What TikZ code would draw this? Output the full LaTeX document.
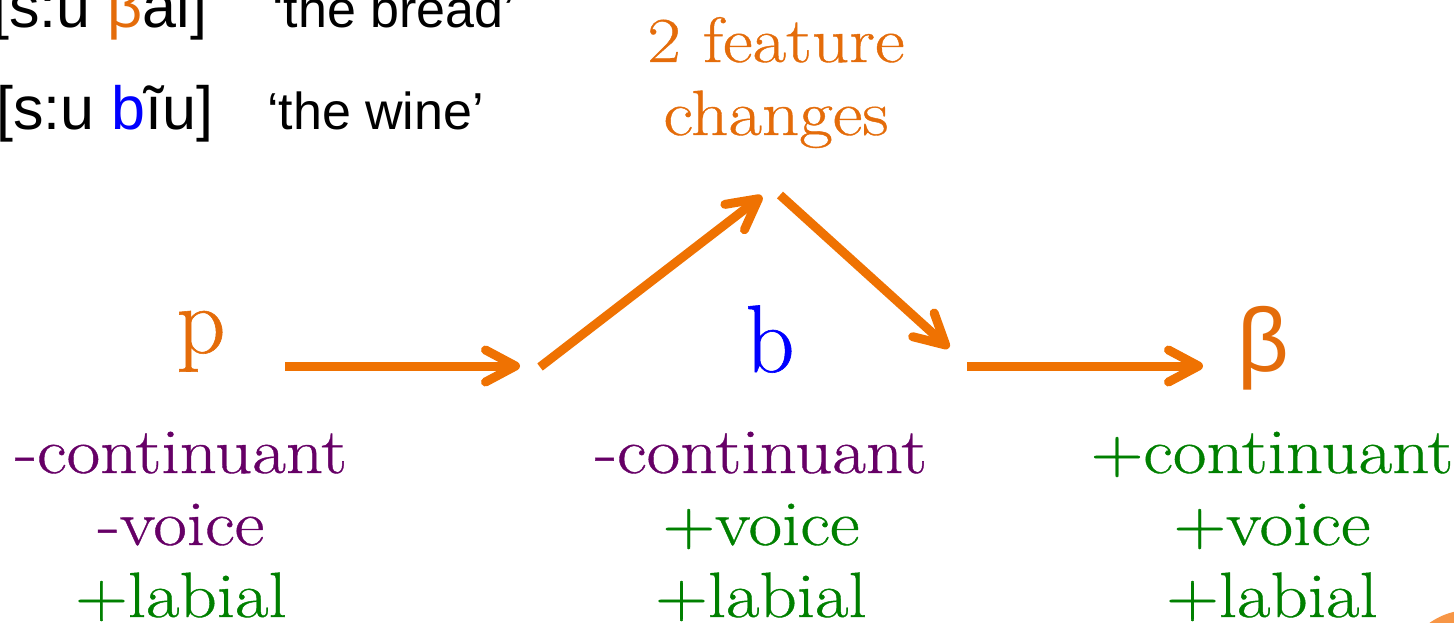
\documentclass[tikz,border=0pt]{standalone}
\usepackage{fontspec}
\usetikzlibrary{arrows.meta}
\newfontfamily\glossfont{Liberation Sans}
\newfontfamily\featfont[FakeStretch=1.14, FakeBold=0.6]{Latin Modern Roman}
\newfontfamily\segfont[FakeBold=0.6]{Latin Modern Roman}

\definecolor{txtorange}{HTML}{E46C0A}
\definecolor{arrorange}{HTML}{EF7202}
\definecolor{featpurple}{HTML}{660066}
\definecolor{featgreen}{HTML}{008000}
\definecolor{segblue}{HTML}{0000FF}
\definecolor{dotorange}{HTML}{F79646}

\tikzset{
  feat/.style={anchor=base, inner sep=0pt, font=\featfont\fontsize{64}{72}\selectfont},
  minus/.style={feat, text=featpurple},
  plus/.style={feat, text=featgreen},
  seg/.style={anchor=base, inner sep=0pt, font=\segfont\fontsize{96}{100}\selectfont},
  ipa/.style={anchor=base west, inner sep=0pt, font=\glossfont\fontsize{61}{64}\selectfont},
  gloss/.style={anchor=base west, inner sep=0pt, font=\glossfont\fontsize{52}{60}\selectfont},
  change/.style={line width=9pt, draw=arrorange,
    -{Straight Barb[length=30pt, width=32pt, round]}},
}

\begin{document}
\begin{tikzpicture}[x=1pt, y=-1pt]
\useasboundingbox (0,0) rectangle (1454,623);

% examples
\node[ipa] (ex1) at (-8,28) {[s:u \textcolor{txtorange}{β}ai]};
\node[gloss] (gl1) at (272,28) {‘the bread’};
\node[ipa] (ex2) at (-4,130) {[s:u \textcolor{segblue}{b}ĩu]};
\node[gloss] (gl2) at (267,130) {‘the wine’};

% segments
\node[seg, text=txtorange] (p) at (201,353) {p};
\node[seg, text=segblue] (b) at (770,372) {b};
\node[seg, anchor=base, text=txtorange, font=\glossfont\fontsize{90}{96}\selectfont] (beta) at (1263,371) {β};

% label at the top of the detour
\node[feat, text=txtorange] (two) at (776,62) {2 feature};
\node[feat, text=txtorange] (chg) at (776,135) {changes};

% feature bundles
\node[minus] (p1) at (181,473) {-continuant};
\node[minus] (p2) at (181,545) {-voice};
\node[plus]  (p3) at (181,617) {+labial};

\node[minus] (b1) at (761,473) {-continuant};
\node[plus]  (b2) at (761,545) {+voice};
\node[plus]  (b3) at (761,617) {+labial};

\node[plus]  (c1) at (1272,473) {+continuant};
\node[plus]  (c2) at (1272,545) {+voice};
\node[plus]  (c3) at (1272,617) {+labial};

% arrow end points
\coordinate (a1s) at (285,366);
\coordinate (a1e) at (520,366);
\coordinate (a2s) at (540,367);
\coordinate (a2e) at (762,196);
\coordinate (a3s) at (780,195);
\coordinate (a3e) at (949,348);
\coordinate (a4s) at (967,366);
\coordinate (a4e) at (1203,366);

\draw[change] (a1s) -- (a1e);
\draw[change] (a2s) -- (a2e);
\draw[change] (a3s) -- (a3e);
\draw[change] (a4s) -- (a4e);

% corner disc
\fill[dotorange] (1470,680) circle (70);
\end{tikzpicture}
\end{document}
